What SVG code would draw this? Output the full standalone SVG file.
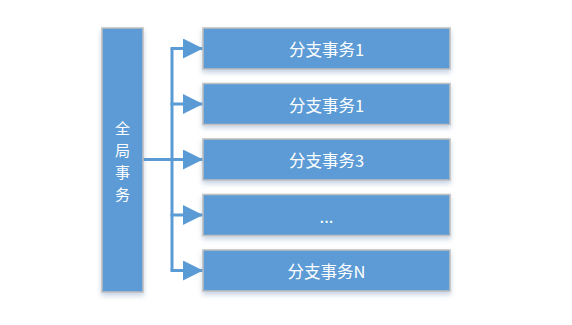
<svg xmlns="http://www.w3.org/2000/svg" width="572" height="325" viewBox="0 0 572 325">
<defs>
<filter id="sh" x="-10%" y="-20%" width="120%" height="150%">
<feGaussianBlur in="SourceAlpha" stdDeviation="2.5"/>
<feOffset dx="0" dy="3" result="b"/>
<feFlood flood-color="#5b7fb0" flood-opacity="0.35"/>
<feComposite in2="b" operator="in"/>
<feMerge><feMergeNode/><feMergeNode in="SourceGraphic"/></feMerge>
</filter>
<marker id="arr" markerUnits="userSpaceOnUse" markerWidth="20" markerHeight="20" viewBox="0 0 20 20" refX="20" refY="10" orient="auto">
<path d="M0,0 L20,10 L0,20 Z" fill="#5B9BD5"/>
</marker>
</defs>
<style>
.box{fill:#5B9BD5;stroke:#BFBFBF;stroke-width:1.5;filter:url(#sh)}
.t{font-family:"Noto Sans CJK SC","Liberation Sans",sans-serif;font-size:16.5px;fill:#fff;text-anchor:middle;dominant-baseline:central}
.v{font-size:15px}
.c{stroke:#5B9BD5;stroke-width:3;fill:none}
</style>
<rect width="572" height="325" fill="#fff"/>
<g id="connectors">
<path class="c" d="M143,159.5 H172"/>
<path class="c" d="M172,48.5 V270.5"/>
<path class="c" d="M170.5,48.5 H203" marker-end="url(#arr)"/>
<path class="c" d="M170.5,104 H203" marker-end="url(#arr)"/>
<path class="c" d="M172,159.5 H203" marker-end="url(#arr)"/>
<path class="c" d="M170.5,215 H203" marker-end="url(#arr)"/>
<path class="c" d="M170.5,270.5 H203" marker-end="url(#arr)"/>
</g>
<g id="global">
<rect class="box" x="102" y="28" width="41" height="264"/>
<text class="t v" x="122.5" y="127">全</text>
<text class="t v" x="122.5" y="149">局</text>
<text class="t v" x="122.5" y="171">事</text>
<text class="t v" x="122.5" y="193">务</text>
</g>
<g id="b1">
<rect class="box" x="203" y="28" width="247" height="41"/>
<text class="t" x="326.5" y="49">分支事务1</text>
</g>
<g id="b2">
<rect class="box" x="203" y="83.5" width="247" height="41"/>
<text class="t" x="326.5" y="104.5">分支事务1</text>
</g>
<g id="b3">
<rect class="box" x="203" y="139" width="247" height="41"/>
<text class="t" x="326.5" y="160">分支事务3</text>
</g>
<g id="b4">
<rect class="box" x="203" y="194.5" width="247" height="41"/>
<text class="t" x="326.5" y="215.5">...</text>
</g>
<g id="b5">
<rect class="box" x="203" y="250" width="247" height="41"/>
<text class="t" x="326.5" y="271">分支事务N</text>
</g>
</svg>
